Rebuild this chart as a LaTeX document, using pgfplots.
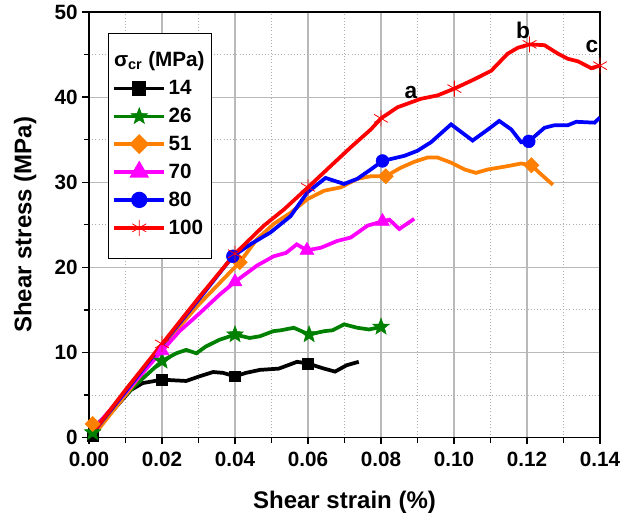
\documentclass[border=0pt]{standalone}
\usepackage{fontspec}
\setmainfont{Liberation Sans}
\usepackage{pgfplots}
\pgfplotsset{compat=1.18}

\definecolor{cgreen}{RGB}{0,128,0}
\definecolor{corange}{RGB}{255,128,0}
\definecolor{cmag}{RGB}{255,0,255}

% filled five-pointed star
\pgfdeclareplotmark{fstar}{%
  \pgfpathmoveto{\pgfpointpolar{90}{\pgfplotmarksize}}%
  \pgfpathlineto{\pgfpointpolar{126}{0.42\pgfplotmarksize}}%
  \pgfpathlineto{\pgfpointpolar{162}{\pgfplotmarksize}}%
  \pgfpathlineto{\pgfpointpolar{198}{0.42\pgfplotmarksize}}%
  \pgfpathlineto{\pgfpointpolar{234}{\pgfplotmarksize}}%
  \pgfpathlineto{\pgfpointpolar{270}{0.42\pgfplotmarksize}}%
  \pgfpathlineto{\pgfpointpolar{306}{\pgfplotmarksize}}%
  \pgfpathlineto{\pgfpointpolar{342}{0.42\pgfplotmarksize}}%
  \pgfpathlineto{\pgfpointpolar{18}{\pgfplotmarksize}}%
  \pgfpathlineto{\pgfpointpolar{54}{0.42\pgfplotmarksize}}%
  \pgfpathclose
  \pgfusepathqfillstroke}

\begin{document}
\begin{tikzpicture}
\begin{axis}[
  scale only axis, width=383pt, height=319pt,
  xmin=0, xmax=0.14, ymin=0, ymax=50,
  xtick={0,0.02,...,0.14}, ytick={0,10,...,50},
  minor tick num=1,
  xticklabel style={yshift=-2pt, /pgf/number format/.cd,fixed,fixed zerofill,precision=2},
  /pgf/number format/assume math mode=true,
  ticklabel style={font=\bfseries\fontsize{15.5}{17}\selectfont},
  tick align=outside, xtick pos=bottom, ytick pos=left,
  major tick length=5pt, minor tick length=4pt,
  tick style={black, line width=1pt},
  axis line style={line width=1.4pt},
  grid=both,
  major grid style={gray!55, line width=0.9pt},
  minor grid style={gray!65, dotted, line width=0.6pt},
  xlabel={\bfseries\fontsize{18}{20}\selectfont Shear strain (\%)},
  ylabel={\bfseries\fontsize{18}{20}\selectfont Shear stress (MPa)},
  xlabel style={at={(axis description cs:0.5,-0.153)}, anchor=center},
  ylabel style={at={(axis description cs:-0.125,0.5)}, anchor=center},
  legend cell align=left,
  legend style={at={(0.037,0.951)}, anchor=north west, draw=black, line width=0.8pt,
    font=\bfseries\fontsize{15.5}{17}\selectfont, row sep=4.6pt, inner xsep=3pt, inner ysep=15pt},
  legend image code/.code={\draw[mark repeat=2,mark phase=2,#1] plot coordinates {(0cm,0cm) (0.66cm,0cm) (1.32cm,0cm)};},
]
% legend entries
\addlegendimage{empty legend}
\addlegendentry{\hspace*{-41pt}σ\smash{\textsubscript{cr}} \smash{(MPa)}}
\addlegendimage{black, line width=2.6pt, mark=square*, mark size=4.1pt}
\addlegendentry{14}
\addlegendimage{cgreen, line width=2.6pt, mark=fstar, mark size=6.5pt, mark options={line width=0.4pt}}
\addlegendentry{26}
\addlegendimage{corange, line width=2.6pt, mark=square*, mark size=4pt, mark options={rotate=45}}
\addlegendentry{51}
\addlegendimage{cmag, line width=2.6pt, mark=triangle*, mark size=6pt}
\addlegendentry{70}
\addlegendimage{blue, line width=2.6pt, mark=*, mark size=4.8pt}
\addlegendentry{80}
\addlegendimage{red, line width=2.6pt, mark=asterisk, mark size=6pt, mark options={line width=0.6pt}}
\addlegendentry{100}

% 14 MPa
\addplot[black, line width=2.8pt, forget plot] coordinates {
(0,0) (0.0115,5.6) (0.0147,6.4) (0.02,6.8) (0.0266,6.65) (0.0303,7.2) (0.034,7.7)
(0.0367,7.6) (0.04,7.2) (0.043,7.6) (0.0468,7.95) (0.052,8.1) (0.057,8.9) (0.06,8.7)
(0.064,8.15) (0.0674,7.75) (0.0706,8.5) (0.0739,8.9)};
\addplot[black, only marks, mark=square*, mark size=4.1pt, forget plot] coordinates {
(0.001,0.2) (0.02,6.8) (0.04,7.2) (0.06,8.7)};

% 26 MPa
\addplot[cgreen, line width=2.8pt, forget plot] coordinates {
(0,0.6) (0.0128,6.2) (0.02,9.0) (0.0239,9.9) (0.0266,10.3) (0.0294,9.9) (0.032,10.7)
(0.0358,11.5) (0.04,12.1) (0.044,11.7) (0.0468,11.9) (0.0505,12.5) (0.0525,12.6)
(0.0561,12.9) (0.0603,12.1) (0.0644,12.5) (0.0667,12.6) (0.0699,13.3) (0.0735,12.9)
(0.0767,12.7) (0.08,13.0)};
\addplot[cgreen, only marks, mark=fstar, mark size=6.5pt, mark options={line width=0.4pt}, forget plot] coordinates {
(0.001,0.6) (0.02,9.0) (0.04,12.1) (0.0603,12.1) (0.08,13.0)};

% 51 MPa
\addplot[corange, line width=2.8pt, forget plot] coordinates {
(0.001,1.8) (0.003,1.2) (0.01,5.0) (0.02,10.7) (0.03,15.6) (0.0413,20.6) (0.046,23.3)
(0.0506,25.1) (0.0552,26.4) (0.0598,28.0) (0.0644,29.0) (0.069,29.4) (0.0735,30.4)
(0.0772,30.7) (0.0813,30.7) (0.0854,31.7) (0.0891,32.4) (0.0927,32.9) (0.0955,32.9)
(0.0992,32.3) (0.1029,31.5) (0.106,31.1) (0.1093,31.5) (0.1148,31.9) (0.1184,32.2)
(0.1212,32.0) (0.1234,31.1) (0.1271,29.7)};
\addplot[corange, only marks, mark=square*, mark size=4pt, mark options={rotate=45}, forget plot] coordinates {
(0.001,1.6) (0.0413,20.6) (0.0813,30.7) (0.1212,32.0)};

% 70 MPa
\addplot[cmag, line width=2.8pt, forget plot] coordinates {
(0,0.4) (0.01,5.3) (0.02,10.2) (0.0248,12.5) (0.0303,14.6) (0.0358,16.8) (0.04,18.3)
(0.046,20.2) (0.0506,21.3) (0.054,21.7) (0.0569,22.7) (0.0597,22.0) (0.0635,22.3)
(0.068,23.1) (0.0717,23.5) (0.0763,24.9) (0.0804,25.4) (0.0823,25.6) (0.085,24.5)
(0.0891,25.7)};
\addplot[cmag, only marks, mark=triangle*, mark size=6pt, forget plot] coordinates {
(0.02,10.2) (0.04,18.3) (0.0597,22.0) (0.0804,25.4)};

% 80 MPa
\addplot[blue, line width=2.8pt, forget plot] coordinates {
(0,0) (0.01,5.4) (0.02,10.9) (0.03,16.2) (0.0394,21.3) (0.0442,22.7) (0.0497,24.1)
(0.0552,26.0) (0.0598,28.8) (0.0648,30.5) (0.0699,29.8) (0.0735,30.4) (0.0772,31.5)
(0.0804,32.5) (0.0864,33.1) (0.09,33.7) (0.0937,34.7) (0.0992,36.8) (0.1051,34.9)
(0.1093,36.2) (0.1124,37.2) (0.1157,36.2) (0.1184,34.7) (0.1205,34.8) (0.1248,36.4)
(0.1276,36.7) (0.1312,36.7) (0.1335,37.1) (0.1385,37.0) (0.14,37.6)};
\addplot[blue, only marks, mark=*, mark size=4.8pt, forget plot] coordinates {
(0.0394,21.3) (0.0804,32.5) (0.1205,34.8)};

% 100 MPa
\addplot[red, line width=2.8pt, forget plot] coordinates {
(0,0) (0.01,5.6) (0.02,11.0) (0.03,16.4) (0.04,21.6) (0.0479,24.9) (0.0534,26.8)
(0.06,29.4) (0.0662,31.9) (0.0717,34.1) (0.0772,36.2) (0.08,37.5) (0.0845,38.8)
(0.0909,39.8) (0.0955,40.2) (0.1001,41.0) (0.1056,42.1) (0.1102,43.1) (0.1147,45.1)
(0.1175,45.8) (0.1207,46.2) (0.1248,46.1) (0.1285,45.1) (0.1312,44.5) (0.134,44.2)
(0.1376,43.4) (0.14,43.7)};
\addplot[red, only marks, mark=asterisk, mark size=6pt, mark options={line width=0.6pt}, forget plot] coordinates {
(0.02,11.0) (0.04,21.6) (0.06,29.4) (0.08,37.5) (0.1001,41.0) (0.1207,46.2) (0.14,43.7)};

\node[font=\bfseries\fontsize{17}{19}\selectfont] at (axis cs:0.0882,40.6) {a};
\node[font=\bfseries\fontsize{17}{19}\selectfont] at (axis cs:0.1189,47.8) {b};
\node[font=\bfseries\fontsize{17}{19}\selectfont] at (axis cs:0.1378,46.0) {c};
\end{axis}
\pgfresetboundingbox
\path[use as bounding box] ([shift={(-66.75pt,-62pt)}]current axis.south west) rectangle ([shift={(27pt,9pt)}]current axis.north east);
\end{tikzpicture}
\end{document}
